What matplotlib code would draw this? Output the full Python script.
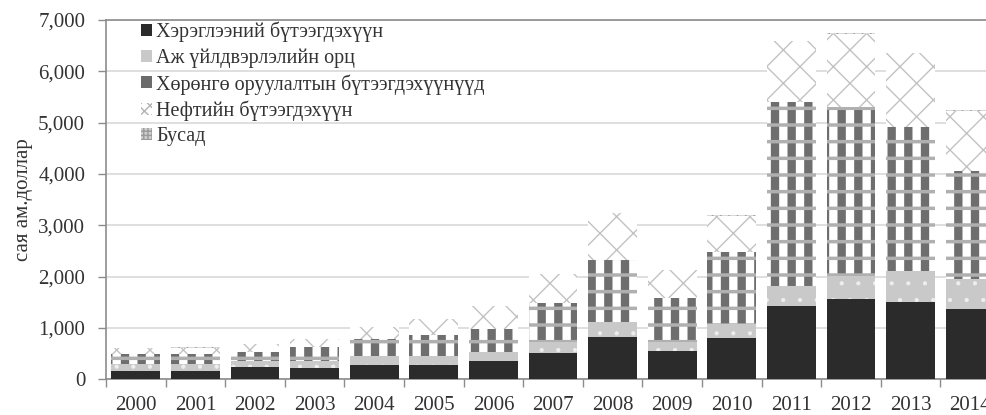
import numpy as np
import matplotlib
matplotlib.use('Agg')
import matplotlib.pyplot as plt
from matplotlib.patches import Patch

years = ['2000', '2001', '2002', '2003', '2004', '2005', '2006', '2007',
         '2008', '2009', '2010', '2011', '2012', '2013', '2014']

# сая ам.доллар
consumer = [156, 156, 230, 227, 279, 279, 363, 519, 830, 558, 811, 1428, 1558, 1512, 1364]
industrial = [148, 148, 127, 129, 175, 175, 169, 202, 286, 163, 267, 390, 460, 598, 590]
investment = [183, 183, 181, 267, 337, 403, 454, 760, 1208, 869, 1396, 3590, 3281, 2811, 2104]
oil = [117, 129, 144, 156, 222, 312, 442, 570, 910, 534, 708, 1177, 1428, 1430, 1169]
other = [4, 4, 5, 5, 6, 6, 8, 10, 12, 10, 12, 15, 16, 15, 14]

labels = ['Хэрэглээний бүтээгдэхүүн', 'Аж үйлдвэрлэлийн орц',
          'Хөрөнгө оруулалтын бүтээгдэхүүнүүд', 'Нефтийн бүтээгдэхүүн', 'Бусад']

plt.rcParams['font.family'] = ['Liberation Serif', 'DejaVu Serif']
plt.rcParams['font.size'] = 14.5
txt = '#333333'

fig = plt.figure(figsize=(9.87, 4.15), dpi=100)
ax = fig.add_axes([106 / 987, 1 - 379.3 / 415, (1000 - 106) / 987, (379.3 - 20) / 415])

x = np.arange(len(years))
w = 0.82
bottom = np.zeros(len(years))

# consumer goods - solid dark
plt.rcParams['hatch.linewidth'] = 1.0
ax.bar(x, consumer, w, bottom=bottom, color='#2b2b2b', linewidth=0, zorder=3)
bottom += consumer

# industrial input - light gray with small white dots
plt.rcParams['hatch.linewidth'] = 0.6
ax.bar(x, industrial, w, bottom=bottom, color='#c9c9c9', edgecolor='#eeeeee',
       hatch='.', linewidth=0, zorder=3)
bottom += industrial

# investment goods - dark blocks with checker bands
plt.rcParams['hatch.linewidth'] = 6
ax.bar(x, investment, w, bottom=bottom, color='white', edgecolor='#6e6e6e',
       hatch='|', linewidth=0, zorder=3)
plt.rcParams['hatch.linewidth'] = 2.5
ax.bar(x, investment, w, bottom=bottom, color='none', edgecolor='#b0b0b0',
       hatch='-', linewidth=0, zorder=3)
bottom += investment

# oil products - gray diagonal cross
plt.rcParams['hatch.linewidth'] = 1.0
ax.bar(x, oil, w, bottom=bottom, color='white', edgecolor='#c2c2c2',
       hatch='x', linewidth=0, zorder=3)
bottom += oil

# other
ax.bar(x, other, w, bottom=bottom, color='#d8d8d8', edgecolor='#9a9a9a',
       hatch='++', linewidth=0, zorder=3)

ax.set_xlim(-0.5, len(years) - 0.5)
ax.set_ylim(0, 7000)
ax.set_yticks(np.arange(0, 7001, 1000))
ax.set_yticklabels([f'{v:,}' for v in range(0, 7001, 1000)])
ax.set_xticks(x)
ax.set_xticklabels(years)
ax.set_xticks(np.arange(-0.5, len(years), 1), minor=True)
ax.tick_params(axis='x', which='major', length=0, pad=12, labelsize=15, colors=txt)
ax.tick_params(axis='x', which='minor', length=6, width=1, color='#8c8c8c')
ax.tick_params(axis='y', length=6, width=1, labelsize=15, colors=txt, pad=9)
ax.tick_params(axis='y', color='#8c8c8c')

ax.yaxis.grid(True, color='#d9d9d9', linewidth=1.2, zorder=0)
ax.set_axisbelow(True)
for s in ['left', 'bottom', 'top']:
    ax.spines[s].set_color('#8c8c8c')
    ax.spines[s].set_linewidth(1.2)
ax.spines['right'].set_visible(False)

ax.set_ylabel('сая ам.доллар', fontsize=15, color=txt, labelpad=4)

plt.rcParams['hatch.linewidth'] = 1.0
handles = [
    Patch(facecolor='#2b2b2b'),
    Patch(facecolor='#c9c9c9'),
    Patch(facecolor='#6b6b6b'),
    Patch(facecolor='white', edgecolor='#b4b4b4', hatch='xxx', linewidth=0),
    Patch(facecolor='#d0d0d0', edgecolor='#9a9a9a', hatch='++++', linewidth=0),
]
leg = ax.legend(handles, labels, loc='upper left', bbox_to_anchor=(0.03, 1.017),
                frameon=False, fontsize=14.5, handlelength=0.55, handleheight=0.55,
                handletextpad=0.2, labelspacing=0.3, borderaxespad=0)
for t in leg.get_texts():
    t.set_color(txt)

fig.savefig('out.png', dpi=100)
